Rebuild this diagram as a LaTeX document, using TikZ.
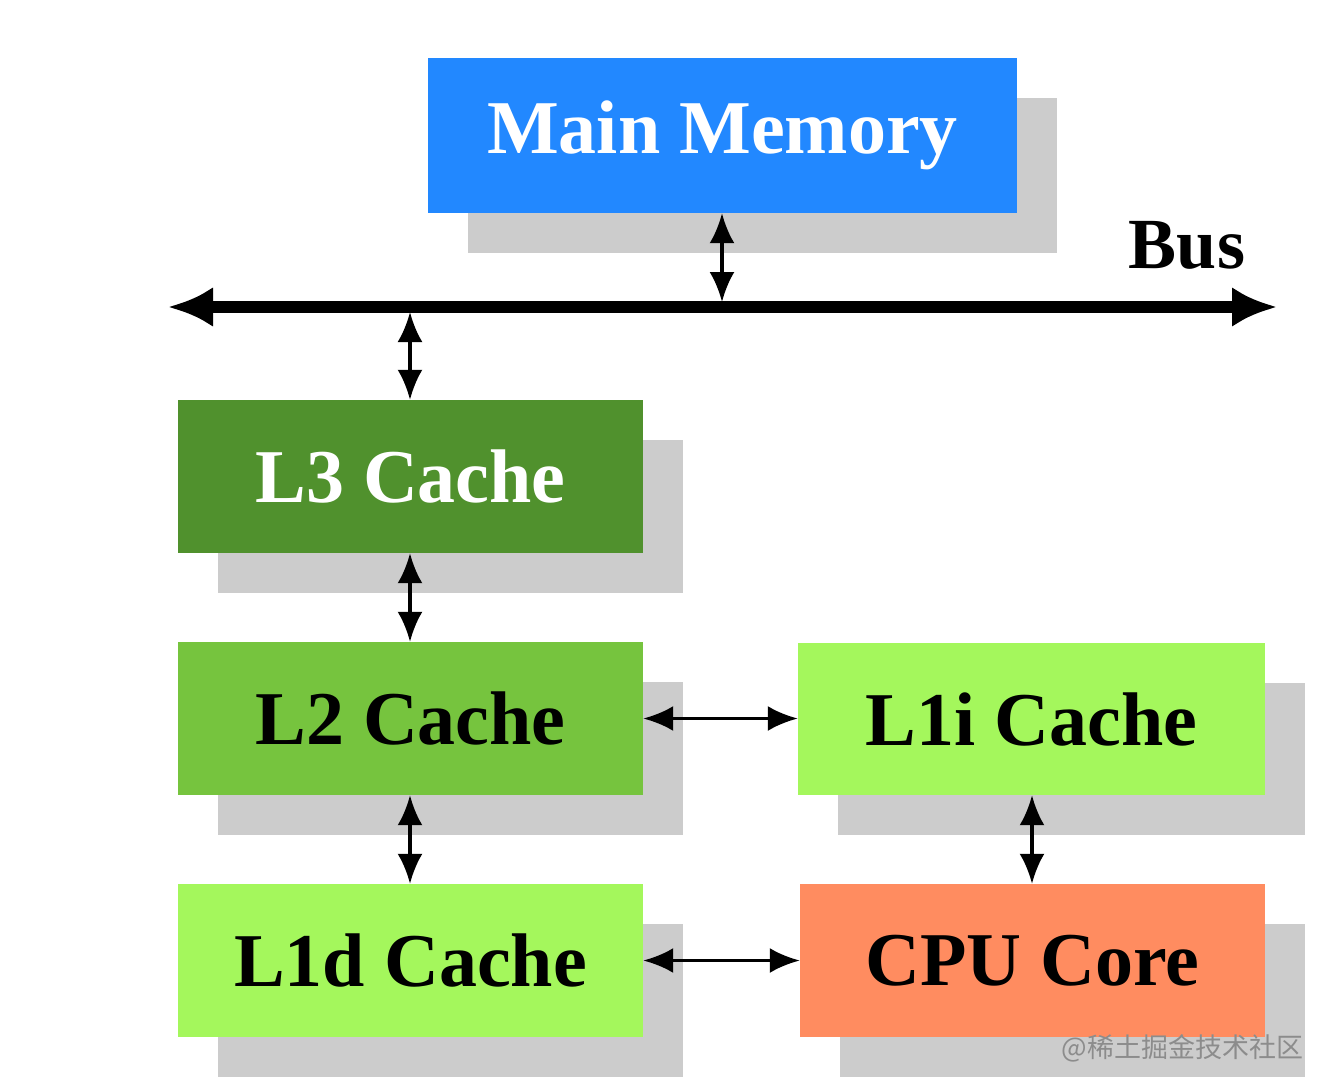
\documentclass[tikz,border=0pt]{standalone}
\usepackage{fontspec}
\setmainfont{Liberation Serif}
\newfontfamily\cjk{Noto Sans CJK SC}
\usetikzlibrary{arrows.meta}
\definecolor{mmblue}{RGB}{34,136,255}
\definecolor{lthree}{RGB}{80,145,45}
\definecolor{ltwo}{RGB}{118,196,62}
\definecolor{lone}{RGB}{164,247,92}
\definecolor{cpucol}{RGB}{255,140,96}
\definecolor{shadowcol}{RGB}{204,204,204}
\tikzset{
  memblock/.style={rectangle, inner sep=0pt, minimum width=465pt, minimum height=153pt,
    font=\fontsize{76}{90}\selectfont\bfseries,
    preaction={fill=shadowcol, transform canvas={shift={(40pt,-40pt)}}}},
  link/.style={line width=3.5pt, {Latex[length=30pt,width=25pt]}-{Latex[length=30pt,width=25pt]}},
  busline/.style={line width=12pt, {Latex[length=45pt,width=40pt]}-{Latex[length=45pt,width=40pt]}}
}
\begin{document}
\begin{tikzpicture}[x=1pt,y=-1pt]
\useasboundingbox[fill=white] (0,0) rectangle (1324,1089);
\node[memblock, fill=mmblue, text=white, minimum width=589pt, minimum height=155pt] (mm) at (722.5,135.5) {Main Memory};
\node[memblock, fill=lthree, text=white] (l3) at (410.5,476.5) {L3 Cache};
\node[memblock, fill=ltwo] (l2) at (410.5,718.5) {L2 Cache};
\node[memblock, fill=lone] (l1d) at (410.5,960.5) {L1d Cache};
\node[memblock, fill=lone, minimum width=467pt, minimum height=152pt] (l1i) at (1031.5,719) {L1i Cache};
\node[memblock, fill=cpucol] (cpu) at (1032.5,960.5) {CPU Core};
\coordinate (busL) at (168,307);
\coordinate (busR) at (1277,307);
\coordinate (busMM) at (722,302);
\coordinate (busL3) at (410,312);
\draw[busline] (busL) -- (busR);
\node[font=\fontsize{72}{80}\selectfont\bfseries] (bus) at (1187,245) {Bus};
\draw[link] (mm.south -| busMM) -- (busMM);
\draw[link] (busL3) -- (l3.north -| busL3);
\draw[link] (l3.south -| busL3) -- (l2.north -| busL3);
\draw[link] (l2.south -| busL3) -- (l1d.north -| busL3);
\draw[link] (l2.east) -- (l2.east -| l1i.west);
\draw[link] (l1d.east) -- (l1d.east -| cpu.west);
\coordinate (vx) at (1032,0);
\draw[link] (l1i.south -| vx) -- (cpu.north -| vx);
\node[font=\cjk\fontsize{27}{30}\selectfont, text=black!45, anchor=east] (wm) at (1307,1048) {@稀土掘金技术社区};
\end{tikzpicture}
\end{document}
